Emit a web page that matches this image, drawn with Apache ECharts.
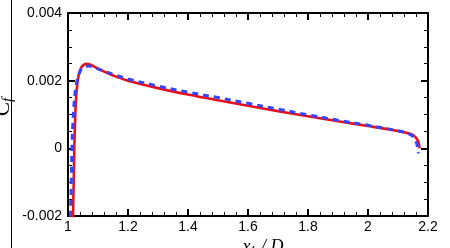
<!DOCTYPE html>
<html>
<head>
<meta charset="utf-8">
<script src="https://cdn.jsdelivr.net/npm/echarts@6/dist/echarts.min.js"></script>
<style>
html,body{margin:0;padding:0;background:#fff;}
#chart{width:450px;height:248px;}
</style>
</head>
<body>
<div id="chart"></div>
<script>
// ---- data ----
var xTickLabels = ['1', '1.2', '1.4', '1.6', '1.8', '2', '2.2'];
var yTickLabels = ['-0.002', '0', '0.002', '0.004'];

var redX = [1.015, 1.0167, 1.019, 1.021, 1.024, 1.027, 1.031, 1.037, 1.045, 1.055, 1.063, 1.075, 1.09, 1.11, 1.14, 1.17, 1.2, 1.3, 1.4, 1.5, 1.6, 1.7, 1.8, 1.9, 2.0, 2.1, 2.14, 2.155, 2.165, 2.17, 2.172];
var redY = [-0.003, -0.002, -0.001, 0.0, 0.0009, 0.0015, 0.0019, 0.00222, 0.0024, 0.00248, 0.0025, 0.00247, 0.0024, 0.00231, 0.00219, 0.00209, 0.002, 0.00178, 0.00159, 0.00142, 0.00126, 0.0011, 0.00095, 0.0008, 0.00066, 0.00051, 0.00043, 0.00036, 0.00025, 0.00012, 0.0];

var blueX = [1.006, 1.008, 1.011, 1.013, 1.016, 1.02, 1.026, 1.033, 1.045, 1.06, 1.07, 1.09, 1.12, 1.16, 1.2, 1.3, 1.4, 1.5, 1.6, 1.7, 1.8, 1.9, 2.0, 2.1, 2.13, 2.15, 2.16, 2.165, 2.168];
var blueY = [-0.003, -0.002, -0.001, 0.0, 0.0007, 0.0013, 0.0018, 0.0021, 0.00234, 0.00242, 0.00243, 0.00238, 0.00228, 0.00216, 0.00205, 0.00184, 0.00166, 0.0015, 0.00133, 0.00116, 0.00099, 0.00083, 0.00068, 0.00052, 0.00045, 0.00035, 0.0002, 0.00005, -0.00015];

function zip(a, b) { return a.map(function (v, i) { return [v, b[i]]; }); }

var chart = echarts.init(document.getElementById('chart'), null, {renderer: 'canvas'});

var xMin = 1, xMax = 2.2, xInt = 0.2;
var yMin = -0.002, yMax = 0.004, yInt = 0.002;
var tickFont = 'Liberation Sans, Arial, sans-serif';

function xAxisBase(pos, showLabel) {
  return {
    type: 'value', position: pos, min: xMin, max: xMax, interval: xInt,
    axisLine: {show: true, onZero: false, lineStyle: {color: '#000', width: 2}},
    axisTick: {show: true, inside: true, length: 7, lineStyle: {color: '#000', width: 2}},
    minorTick: {show: true, splitNumber: 5, length: 4, lineStyle: {color: '#000', width: 1}},
    splitLine: {show: false},
    axisLabel: {
      show: showLabel, margin: 4, color: '#000', fontSize: 14, fontFamily: tickFont,
      formatter: function (v) { return xTickLabels[Math.round((v - xMin) / xInt)]; }
    }
  };
}
function yAxisBase(pos, showLabel) {
  return {
    type: 'value', position: pos, min: yMin, max: yMax, interval: yInt,
    axisLine: {show: true, onZero: false, lineStyle: {color: '#000', width: 2}},
    axisTick: {show: true, inside: true, length: 7, lineStyle: {color: '#000', width: 2}},
    minorTick: {show: true, splitNumber: 4, length: 4, lineStyle: {color: '#000', width: 1}},
    splitLine: {show: false},
    axisLabel: {
      show: showLabel, margin: 6, color: '#000', fontSize: 14, fontFamily: tickFont,
      formatter: function (v) { return yTickLabels[Math.round((v - yMin) / yInt)]; }
    }
  };
}

chart.setOption({
  animation: false,
  backgroundColor: '#fff',
  grid: {left: 68, right: 22, top: 13, bottom: 32, containLabel: false},
  xAxis: [xAxisBase('bottom', true), xAxisBase('top', false)],
  yAxis: [yAxisBase('left', true), yAxisBase('right', false)],
  series: [
    {
      type: 'line', xAxisIndex: 0, yAxisIndex: 0, data: zip(redX, redY),
      showSymbol: false, smooth: 0.35, clip: true,
      lineStyle: {color: '#e8101a', width: 2.6, type: 'solid'}
    },
    {
      type: 'line', xAxisIndex: 0, yAxisIndex: 0, data: zip(blueX, blueY),
      showSymbol: false, smooth: 0.35, clip: true,
      lineStyle: {color: '#3545ff', width: 3, type: [6, 5]}
    }
  ],
  graphic: [
    {type: 'line', shape: {x1: 11.5, y1: 0, x2: 11.5, y2: 248}, style: {stroke: '#000', lineWidth: 1}},
    {
      type: 'text', x: 3, y: 107, rotation: Math.PI / 2,
      style: {
        text: '{c|C}{s|f}', align: 'center', verticalAlign: 'middle',
        rich: {
          c: {fontFamily: 'Liberation Serif, Times New Roman, serif', fontSize: 21, fill: '#000'},
          s: {fontFamily: 'Liberation Serif, Times New Roman, serif', fontStyle: 'italic', fontSize: 15, fill: '#000', verticalAlign: 'bottom', padding: [10, 0, 0, 0]}
        }
      }
    },
    {
      type: 'text', x: 263, y: 237,
      style: {
        text: '{i|x}{s|1}{i| / D}', align: 'center', verticalAlign: 'top',
        rich: {
          i: {fontFamily: 'Liberation Serif, Times New Roman, serif', fontStyle: 'italic', fontSize: 18, fill: '#000'},
          s: {fontFamily: 'Liberation Serif, Times New Roman, serif', fontSize: 12, fill: '#000', padding: [8, 0, 0, 0]}
        }
      }
    }
  ]
});
</script>
</body>
</html>
